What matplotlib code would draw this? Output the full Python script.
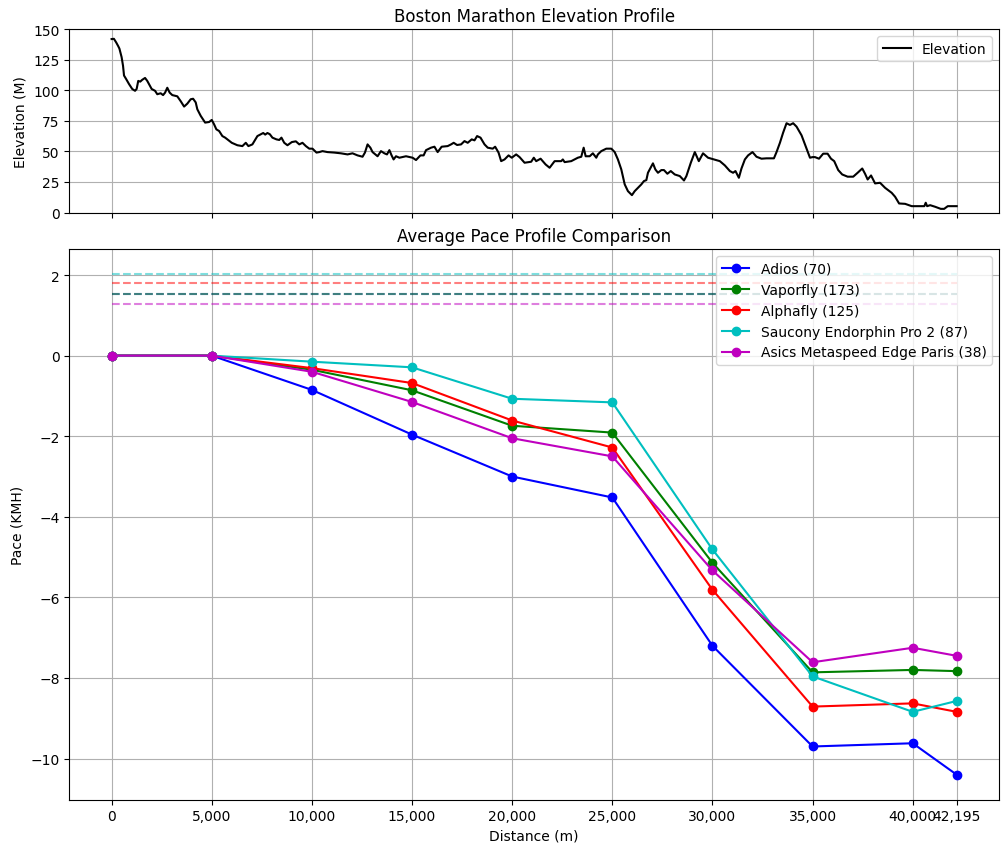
import matplotlib
matplotlib.use("Agg")
import matplotlib.pyplot as plt
from matplotlib.ticker import FuncFormatter

# elevation profile (metres along course, metres above sea level)
elev_dist = [0, 115, 230, 330, 390, 500, 570, 620, 730, 870, 1030, 1170, 1250, 1330, 1430,
             1530, 1670, 1780, 2000, 2170, 2280, 2450, 2570, 2670, 2780, 2900, 3030, 3280,
             3450, 3620, 3780, 3950, 4070, 4200, 4280, 4450, 4670, 4870, 5000, 5120, 5230,
             5370, 5530, 5670, 5780, 6000, 6280, 6530, 6700, 6830, 7030, 7280, 7450, 7570,
             7670, 7780, 7900, 8030, 8230, 8370, 8480, 8620, 8780, 9000, 9200, 9370, 9530,
             9700, 9870, 10030, 10230, 10370, 10530, 10780, 11120, 11450, 11780, 12030,
             12280, 12530, 12650, 12780, 12920, 13030, 13280, 13450, 13620, 13750, 13870,
             13980, 14080, 14200, 14370, 14700, 15030, 15200, 15420, 15580, 15700, 15950,
             16120, 16280, 16480, 16780, 16950, 17080, 17250, 17450, 17620, 17780, 17980,
             18120, 18250, 18420, 18620, 18780, 19030, 19150, 19320, 19450, 19620, 19820,
             19980, 20200, 20370, 20620, 20950, 21080, 21200, 21420, 21670, 21870, 22120,
             22450, 22530, 22620, 22950, 23280, 23450, 23570, 23670, 23870, 24030, 24200,
             24280, 24450, 24700, 24950, 25120, 25280, 25450, 25620, 25780, 25980, 26120,
             26280, 26450, 26580, 26700, 26780, 27030, 27150, 27280, 27450, 27580, 27750,
             27920, 28120, 28370, 28580, 28700, 28920, 29120, 29320, 29530, 29780, 30080,
             30370, 30620, 30870, 31030, 31150, 31320, 31450, 31620, 31780, 32000, 32200,
             32450, 32700, 33070, 33200, 33370, 33530, 33700, 33870, 34030, 34200, 34450,
             34650, 34870, 35000, 35120, 35320, 35530, 35750, 35920, 36080, 36280, 36480,
             36750, 37030, 37250, 37480, 37620, 37750, 37920, 38120, 38370, 38620, 38950,
             39120, 39320, 39620, 39950, 40580, 40650, 40720, 40870, 41120, 41400, 41570,
             41750, 42195]
elev_m = [141.8, 142, 139, 136, 134, 127, 120, 112, 109, 105, 101, 99.5, 101, 107.6, 107,
          108.5, 110, 107.6, 101, 99.5, 96.7, 97.5, 96, 98, 102, 98, 96, 95, 91, 86.6, 89,
          92.6, 93, 90, 84.4, 79, 73.5, 74, 75.7, 72, 68, 66.6, 62.5, 61.2, 59.8, 57, 55,
          54.3, 57, 54.3, 55.7, 62.5, 64, 65, 63.7, 65, 64, 61.2, 59.8, 59.3, 61.2, 57, 55,
          57.6, 58.2, 55.7, 57, 54.3, 52.2, 52.2, 49, 49.4, 50.2, 49.4, 49, 48.4, 47.5, 48.4,
          46.7, 45.6, 49, 55.7, 53, 49.4, 46, 50.2, 48.4, 47.5, 51, 46.7, 43.4, 46, 44.8, 46,
          44.8, 42.9, 46.7, 46.7, 51, 53, 53.8, 49.4, 53.8, 54.3, 55.7, 57, 55.2, 55.7, 58.4,
          57, 59.8, 59, 62.5, 61.2, 55.7, 53, 52.2, 53.8, 49, 42, 43.4, 46.7, 44.8, 47.5,
          45.3, 40.7, 41.5, 44.8, 42, 44, 39.3, 36.6, 42, 42, 43.4, 41.2, 42, 44.8, 45.6, 53,
          46, 46, 48.4, 44.8, 47.5, 50.2, 52.2, 52.2, 49.4, 43.4, 35.2, 23, 17.5, 14.2, 17.5,
          20.2, 23, 25.7, 26.5, 32.5, 40.2, 35.2, 32.5, 34.7, 34.7, 31.7, 33.9, 31.1, 29.8,
          26.2, 29.8, 40.7, 49.4, 42, 48.4, 44.8, 43.4, 42, 38.5, 33.9, 32.5, 33.9, 28.4, 36,
          43.4, 46.7, 49.4, 45.6, 44, 44.3, 44.3, 49.4, 57, 65.3, 73, 71.6, 73, 70.2, 63.1,
          54.3, 44.8, 45.3, 45.3, 44, 48.1, 48.1, 44, 42, 34.7, 31.1, 29.3, 29.3, 32.5, 36,
          31.7, 27, 30.3, 23.8, 24.3, 20.2, 16.1, 12.9, 7.4, 7.1, 5.2, 5.2, 8, 5.2, 6, 4.7,
          3, 3, 5.2, 5.2]

# pace checkpoints
checkpoints = [0, 5000, 10000, 15000, 20000, 25000, 30000, 35000, 40000, 42195]
shoe_names = ["Adios (70)", "Vaporfly (173)", "Alphafly (125)",
              "Saucony Endorphin Pro 2 (87)", "Asics Metaspeed Edge Paris (38)"]
shoe_colors = ["b", "g", "r", "c", "m"]
pace_adios = [0, 0, -0.85, -1.96, -3.0, -3.52, -7.2, -9.70, -9.62, -10.4]
pace_vaporfly = [0, 0, -0.35, -0.86, -1.74, -1.91, -5.14, -7.86, -7.80, -7.83]
pace_alphafly = [0, 0, -0.31, -0.68, -1.61, -2.28, -5.81, -8.71, -8.63, -8.84]
pace_saucony = [0, 0, -0.15, -0.29, -1.07, -1.16, -4.81, -7.96, -8.84, -8.57]
pace_asics = [0, 0, -0.40, -1.15, -2.05, -2.50, -5.33, -7.61, -7.25, -7.45]
pace_avg = [1.52, 1.52, 1.80, 2.02, 1.27]

all_paces = [pace_adios, pace_vaporfly, pace_alphafly, pace_saucony, pace_asics]

fig, (ax1, ax2) = plt.subplots(2, 1, figsize=(10.08, 8.53), sharex=True,
                               gridspec_kw={"height_ratios": [1, 3]})
fig.subplots_adjust(left=0.0688, right=0.991, top=0.9648, bottom=0.0613, hspace=0.1)

ax1.plot(elev_dist, elev_m, color="black", label="Elevation")
ax1.set_ylim(0, 150)
ax1.set_ylabel("Elevation (M)")
ax1.set_title("Boston Marathon Elevation Profile")
ax1.grid(True)
ax1.legend(loc="upper right")

for name, col, pace, avg in zip(shoe_names, shoe_colors, all_paces, pace_avg):
    ax2.plot(checkpoints, pace, marker="o", color=col, label=name)
    ax2.hlines(avg, checkpoints[0], checkpoints[-1], colors=col,
               linestyles="dashed", alpha=0.5)

ax2.set_xticks(checkpoints[:-1] + [checkpoints[-1]])
ax2.xaxis.set_major_formatter(FuncFormatter(lambda v, p: f"{int(v):,}"))
ax2.set_xlabel("Distance (m)")
ax2.set_ylabel("Pace (KMH)")
ax2.set_title("Average Pace Profile Comparison")
ax2.grid(True)
ax2.legend(loc="upper right")

fig.savefig("out.png", dpi=100)
